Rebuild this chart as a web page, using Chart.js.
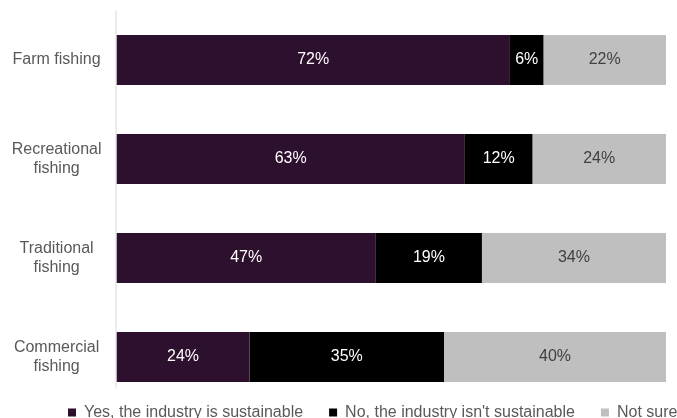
<!DOCTYPE html>
<html>
<head>
<meta charset="utf-8">
<script src="https://cdn.jsdelivr.net/npm/chart.js@4.4.1/dist/chart.umd.min.js"></script>
<style>
  body { margin: 0; background: #fff; }
  #wrap { width: 677px; height: 418px; }
</style>
</head>
<body>
<div id="wrap"><canvas id="myChart"></canvas></div>
<script>
// categories (multi-line tick labels)
const categories = [
    ['Farm fishing'],
    ['Recreational', 'fishing'],
    ['Traditional', 'fishing'],
    ['Commercial', 'fishing']
];
// shares in %
const yesValues = [71.6, 63.4, 47.2, 24.2];
const noValues = [6.1, 12.3, 19.3, 35.4];
const notSureValues = [22.3, 24.3, 33.5, 40.4];
const seriesNames = ['Yes, the industry is sustainable', "No, the industry isn't sustainable", 'Not sure'];

const FONT = "'Liberation Sans', Arial, sans-serif";

// percentage labels inside each segment
const barLabels = {
    id: 'barLabels',
    afterDatasetsDraw(chart) {
        const ctx = chart.ctx;
        ctx.save();
        ctx.font = '16px ' + FONT;
        ctx.textAlign = 'center';
        ctx.textBaseline = 'middle';
        chart.data.datasets.forEach((ds, i) => {
            const meta = chart.getDatasetMeta(i);
            ctx.fillStyle = ds.labelColor;
            meta.data.forEach((bar, j) => {
                const p = bar.getCenterPoint();
                ctx.fillText(Math.round(ds.data[j]) + '%', p.x, p.y);
            });
        });
        ctx.restore();
    }
};

// thin vertical axis line on the left, stopping above the legend
const axisLine = {
    id: 'axisLine',
    beforeDatasetsDraw(chart) {
        const { ctx, chartArea } = chart;
        ctx.save();
        ctx.strokeStyle = '#d9d9d9';
        ctx.lineWidth = 1;
        ctx.beginPath();
        ctx.moveTo(chartArea.left - 0.5, chartArea.top);
        ctx.lineTo(chartArea.left - 0.5, chartArea.bottom - 18);
        ctx.stroke();
        ctx.restore();
    }
};

// legend overlaps the bottom of the plot like in the original
const moveLegend = {
    id: 'moveLegend',
    afterLayout(chart) {
        const lg = chart.legend;
        const lo = lg.options.labels;
        lg.top = (chart.height - 5.5) - lo.padding - lo.font.size / 2;
        lg.bottom = chart.height;
        lg.height = lg.bottom - lg.top;
        // first legend box starts a bit left of the plot
        const start = chart.chartArea.left - 48.5;
        lg.right = chart.width + 60;
        lg.left = 2 * start - lo.padding - lg.right + lg.lineWidths[0];
        lg.width = lg.right - lg.left;
    }
};

const ctx = document.getElementById('myChart').getContext('2d');
const myChart = new Chart(ctx, {
    type: 'bar',
    data: {
        labels: categories,
        datasets: [{
            label: seriesNames[0],
            data: yesValues,
            backgroundColor: '#2d0f2e',
            labelColor: '#ffffff'
        }, {
            label: seriesNames[1],
            data: noValues,
            backgroundColor: '#000000',
            labelColor: '#ffffff'
        }, {
            label: seriesNames[2],
            data: notSureValues,
            backgroundColor: '#bfbfbf',
            labelColor: '#404040'
        }]
    },
    options: {
        indexAxis: 'y',
        responsive: true,
        maintainAspectRatio: false,
        animation: false,
        categoryPercentage: 0.505,
        barPercentage: 1,
        borderWidth: 0,
        layout: { padding: { left: 0, right: 11, top: 10.5, bottom: 0 } },
        scales: {
            x: {
                stacked: true,
                min: 0,
                max: 100,
                display: false
            },
            y: {
                stacked: true,
                grid: { display: false, drawTicks: false },
                border: { display: false },
                ticks: {
                    color: '#595959',
                    padding: 15,
                    crossAlign: 'center',
                    font: { family: FONT, size: 16, lineHeight: 1.15 }
                },
                afterFit(scale) {
                    scale.width = 116.5;
                    scale.paddingTop = 0;
                    scale.paddingBottom = 0;
                }
            }
        },
        plugins: {
            tooltip: { enabled: false },
            legend: {
                position: 'bottom',
                maxHeight: 11.5,
                labels: {
                    color: '#595959',
                    boxWidth: 8,
                    boxHeight: 8,
                    padding: 26,
                    font: { family: FONT, size: 16 }
                }
            }
        }
    },
    plugins: [barLabels, axisLine, moveLegend]
});
</script>
</body>
</html>
